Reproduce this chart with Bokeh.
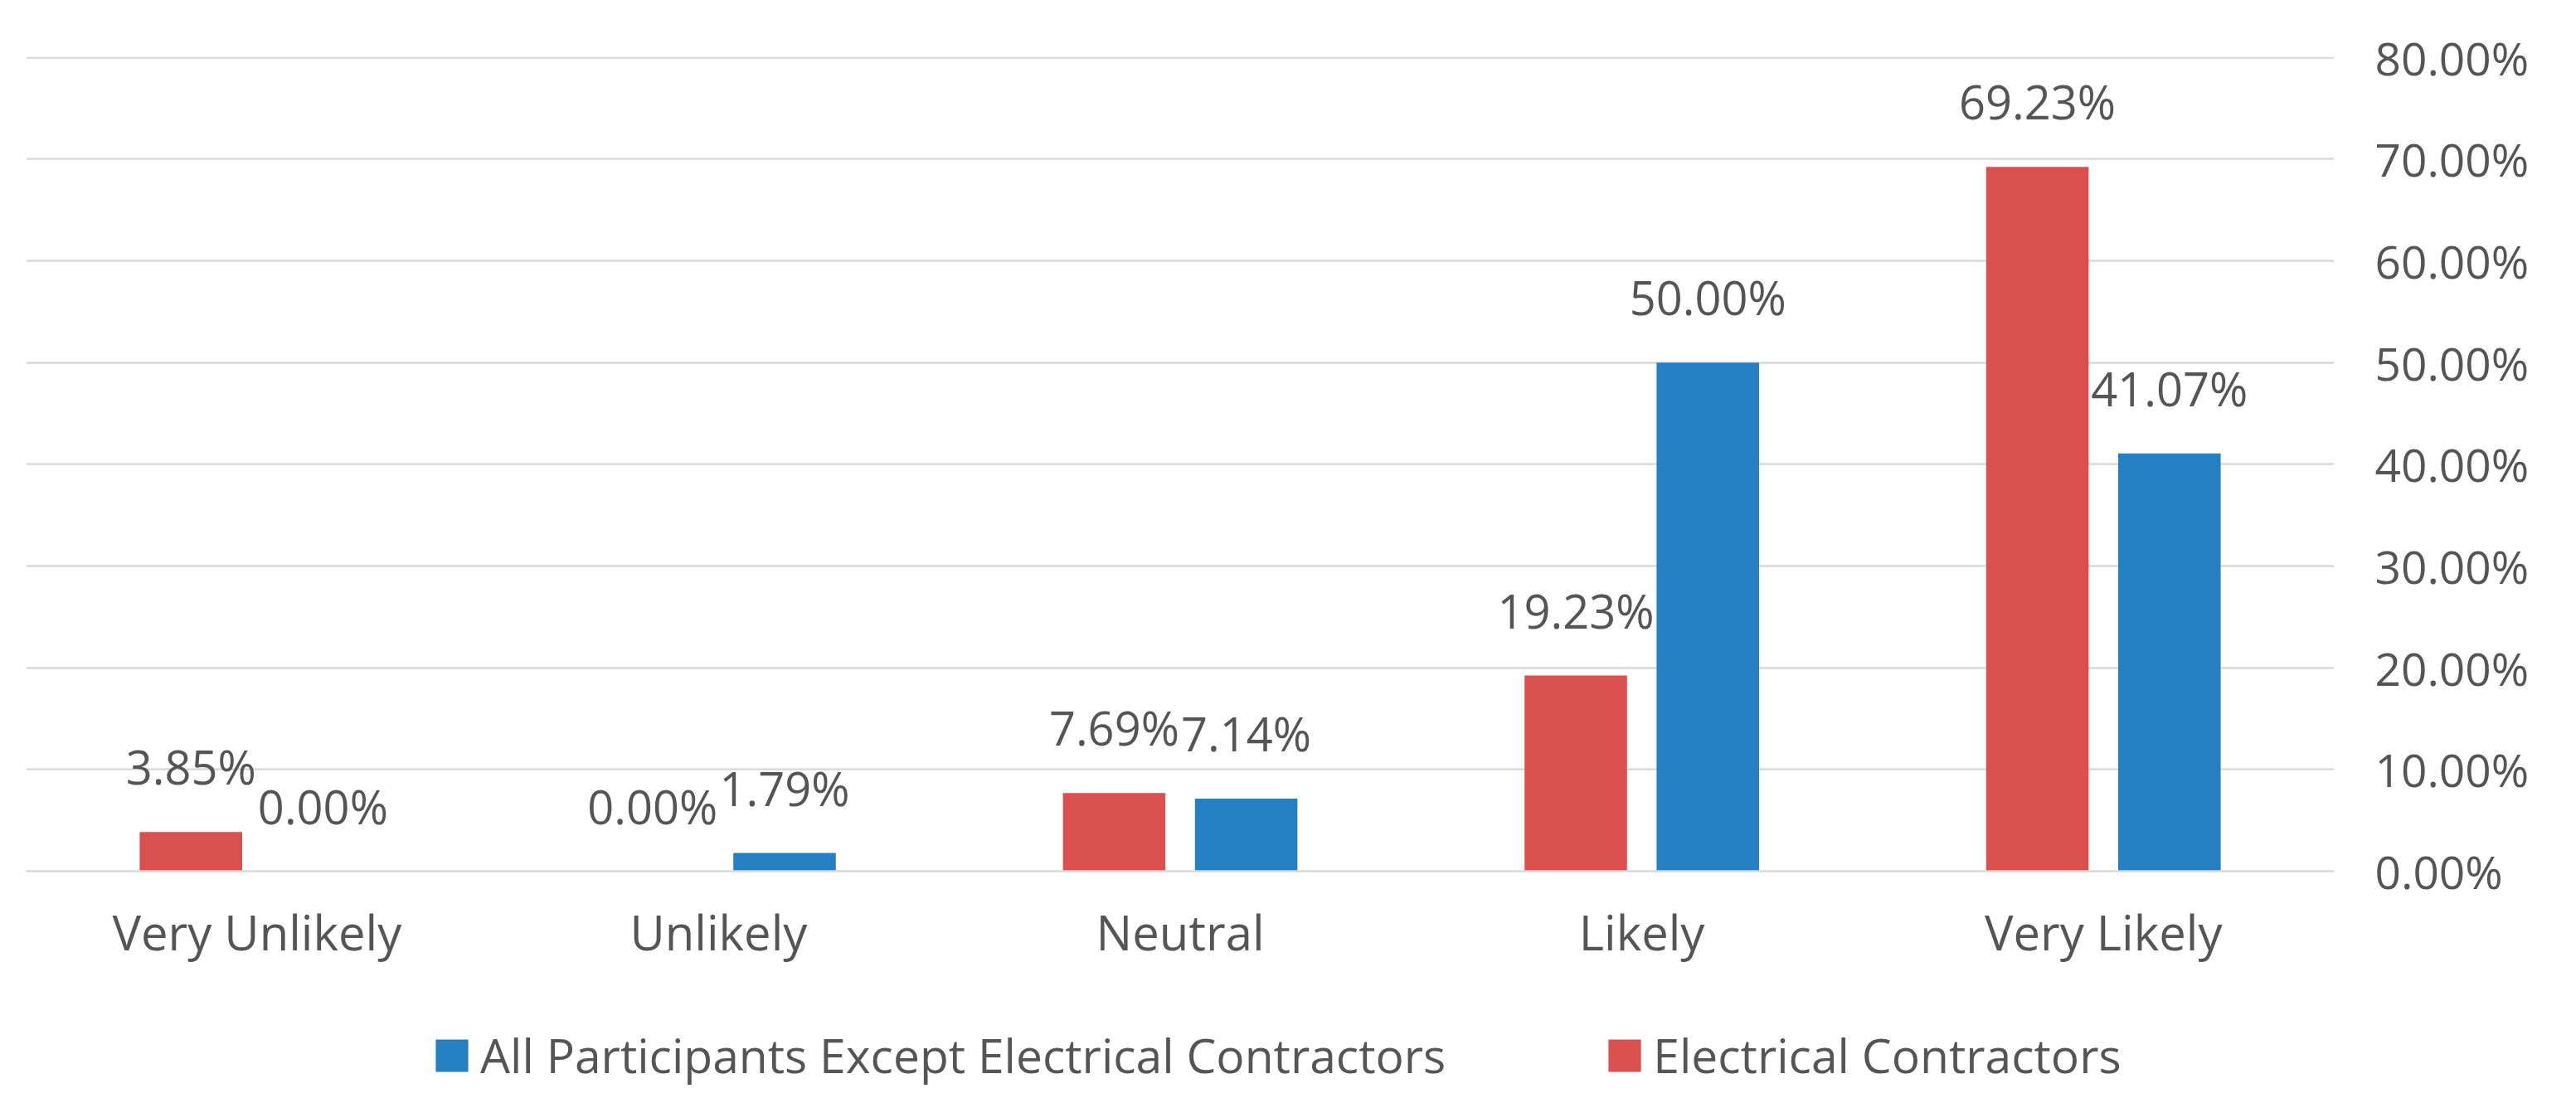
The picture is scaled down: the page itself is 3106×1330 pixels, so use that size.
from bokeh.plotting import figure
from bokeh.layouts import column
from bokeh.models import (FactorRange, Range1d, PrintfTickFormatter, Legend,
                          LegendItem, ColumnDataSource, FixedTicker)
from bokeh.transform import dodge
from bokeh.core.properties import value
from bokeh.embed import file_html
from bokeh.resources import INLINE

# ---- data ----
categories = ["Very Unlikely", "Unlikely", "Neutral", "Likely", "Very Likely"]
electrical_contractors = [3.85, 0.00, 7.69, 19.23, 69.23]
all_except_electrical = [0.00, 1.79, 7.14, 50.00, 41.07]
y_ticks = [0, 10, 20, 30, 40, 50, 60, 70, 80]
series_names = ["All Participants Except Electrical Contractors", "Electrical Contractors"]

RED = "#d9504e"
BLUE = "#2580c3"
GRID = "#d9d9d9"
TXT = "#555555"
FONT = "Open Sans"

src = ColumnDataSource(dict(
    cat=categories,
    ec=electrical_contractors,
    ot=all_except_electrical,
    ec_lbl=[f"{v:.2f}%" for v in electrical_contractors],
    ot_lbl=[f"{v:.2f}%" for v in all_except_electrical],
))

MAIN_H = 1180
p = figure(x_range=FactorRange(factors=categories, range_padding=0),
           y_range=Range1d(0, 80.05),
           width=3090, height=MAIN_H,
           output_backend="svg", toolbar_location=None,
           y_axis_location="right",
           min_border_left=31, min_border_right=276,
           min_border_top=68, min_border_bottom=MAIN_H - 1050)

OFF = 0.143
BW = 0.222

r_red = p.vbar(x=dodge("cat", -OFF, range=p.x_range), top="ec", width=BW,
               source=src, fill_color=RED, line_color=None)
r_blue = p.vbar(x=dodge("cat", OFF, range=p.x_range), top="ot", width=BW,
                source=src, fill_color=BLUE, line_color=None)

for xo, col in ((-OFF, "ec"), (OFF, "ot")):
    p.text(x=dodge("cat", xo, range=p.x_range), y=col, text=col + "_lbl",
           source=src, text_align="center", text_baseline="alphabetic",
           y_offset=-79, text_font=value(FONT), text_font_size="56px",
           text_color=TXT)

p.outline_line_color = None
p.xgrid.grid_line_color = None
p.ygrid.ticker = FixedTicker(ticks=y_ticks)
p.ygrid.grid_line_color = GRID
p.ygrid.grid_line_width = 2.5

p.yaxis.ticker = FixedTicker(ticks=y_ticks)
p.yaxis.formatter = PrintfTickFormatter(format="%.2f%%")
p.yaxis.axis_line_color = None
p.yaxis.major_tick_line_color = None
p.yaxis.minor_tick_line_color = None
p.yaxis.major_tick_out = 0
p.yaxis.major_label_standoff = 49
p.yaxis.major_label_text_font = FONT
p.yaxis.major_label_text_font_size = "55px"
p.yaxis.major_label_text_color = TXT

p.xaxis.axis_line_color = GRID
p.xaxis.axis_line_width = 2.5
p.xaxis.major_tick_line_color = None
p.xaxis.minor_tick_line_color = None
p.xaxis.major_tick_out = 0
p.xaxis.major_label_standoff = 33
p.xaxis.major_label_text_font = FONT
p.xaxis.major_label_text_font_size = "58px"
p.xaxis.major_label_text_color = TXT

# ---- legend strip (separate figure below the chart) ----
LEG_H = 1314 - MAIN_H
lp = figure(width=3090, height=LEG_H, output_backend="svg",
            toolbar_location=None, x_range=p.x_range, y_range=Range1d(-2, -1),
            min_border=0, min_border_left=0, min_border_right=0,
            min_border_top=0, min_border_bottom=0)
lp.axis.visible = False
lp.grid.visible = False
lp.outline_line_color = None
# legend proxies: same series, kept out of this strip's visible window
lg_blue = lp.vbar(x="cat", top="ot", width=BW, source=src,
                  fill_color=BLUE, line_color=None, visible=False)
lg_red = lp.vbar(x="cat", top="ec", width=BW, source=src,
                 fill_color=RED, line_color=None, visible=False)

legend = Legend(items=[LegendItem(label=series_names[0], renderers=[lg_blue]),
                       LegendItem(label=series_names[1], renderers=[lg_red])],
                location=(489, 3), orientation="horizontal",
                glyph_width=49, glyph_height=49, label_standoff=10,
                spacing=191, padding=0, margin=0,
                border_line_color=None, background_fill_alpha=0,
                inactive_fill_alpha=0, click_policy="none",
                label_text_font=FONT, label_text_font_size="57px",
                label_text_color=TXT)
lp.add_layout(legend)

layout = column(p, lp, spacing=0)
open("out.html", "w").write(file_html(layout, INLINE))
